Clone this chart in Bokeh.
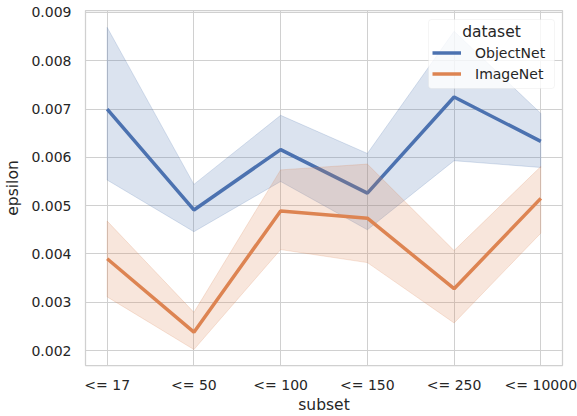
from bokeh.plotting import figure
from bokeh.models import (FixedTicker, PrintfTickFormatter, Range1d, Legend, LegendItem,
                          Label, BoxAnnotation)
from bokeh.embed import file_html
from bokeh.resources import INLINE

# Subset buckets along the x axis
subsets = ["<= 17", "<= 50", "<= 100", "<= 150", "<= 250", "<= 10000"]

# ObjectNet: mean epsilon and confidence band
objectnet_mean = [0.00700, 0.00491, 0.00616, 0.00526, 0.00725, 0.00633]
objectnet_low = [0.00553, 0.00446, 0.00550, 0.00450, 0.00593, 0.00579]
objectnet_high = [0.00869, 0.00544, 0.00687, 0.00608, 0.00861, 0.00691]

# ImageNet: mean epsilon and confidence band
imagenet_mean = [0.00390, 0.00238, 0.00489, 0.00474, 0.00328, 0.00515]
imagenet_low = [0.00311, 0.00202, 0.00409, 0.00382, 0.00257, 0.00443]
imagenet_high = [0.00468, 0.00279, 0.00574, 0.00586, 0.00407, 0.00581]

BLUE = "#4c72b0"
ORANGE = "#dd8452"
TEXT = "#262626"
GRID = "#d0d0d0"
FONT = "DejaVu Sans"

xs = list(range(len(subsets)))

p = figure(width=577, height=416, output_backend="svg", toolbar_location=None,
           x_range=Range1d(-0.25, len(subsets) - 0.75),
           y_range=Range1d(0.00169, 0.00904))
p.min_border_left = 85
p.min_border_right = 15
p.min_border_top = 10
p.min_border_bottom = 50
p.background_fill_color = "white"
p.border_fill_color = "white"
p.outline_line_color = GRID
p.outline_line_width = 1.25

p.xgrid.grid_line_color = GRID
p.ygrid.grid_line_color = GRID
p.xgrid.grid_line_width = 1
p.ygrid.grid_line_width = 1

p.xaxis.ticker = FixedTicker(ticks=xs)
p.xaxis.major_label_overrides = {i: s for i, s in enumerate(subsets)}
p.yaxis.ticker = FixedTicker(ticks=[0.002, 0.003, 0.004, 0.005, 0.006, 0.007, 0.008, 0.009])
p.yaxis.formatter = PrintfTickFormatter(format="%.3f")
p.xaxis.axis_label = "subset"
p.yaxis.axis_label = "epsilon"

for ax in (p.xaxis, p.yaxis):
    ax.axis_line_color = None
    ax.major_tick_line_color = None
    ax.minor_tick_line_color = None
    ax.major_label_text_font = FONT
    ax.major_label_text_font_size = "14px"
    ax.major_label_text_color = TEXT
    ax.axis_label_text_font = FONT
    ax.axis_label_text_font_size = "15.5px"
    ax.axis_label_text_font_style = "normal"
    ax.axis_label_text_color = TEXT
p.xaxis.major_label_standoff = 5
p.yaxis.major_label_standoff = 8
p.xaxis.axis_label_standoff = 0
p.yaxis.axis_label_standoff = 6


def band(color, low, high):
    bx = xs + xs[::-1]
    by = list(high) + list(low)[::-1]
    p.patch(bx, by, fill_color=color, fill_alpha=0.2,
            line_color=color, line_alpha=0.2, line_width=1)


band(BLUE, objectnet_low, objectnet_high)
r_obj = p.line(xs, objectnet_mean, line_color=BLUE, line_width=3.5)
band(ORANGE, imagenet_low, imagenet_high)
r_img = p.line(xs, imagenet_mean, line_color=ORANGE, line_width=3.5)

# Legend frame (screen units, relative to the plot frame) and its centred heading
legend_box = BoxAnnotation(left=343, right=469, bottom=277, top=346,
                           left_units="screen", right_units="screen",
                           bottom_units="screen", top_units="screen",
                           fill_color="white", fill_alpha=0.8,
                           line_color="#dddddd", line_width=1, border_radius=3)
p.add_layout(legend_box)
heading = Label(x=406, y=334, x_units="screen", y_units="screen", text="dataset",
                text_align="center", text_baseline="middle",
                text_font=FONT, text_font_size="15.5px", text_color=TEXT)
p.add_layout(heading)

# Legend entries; the blank title keeps the heading row free
legend = Legend(items=[LegendItem(label="ObjectNet", renderers=[r_obj]),
                       LegendItem(label="ImageNet", renderers=[r_img])],
                location=(347, 282), title=" ")
legend.margin = 0
legend.padding = 5
legend.spacing = 2
legend.glyph_width = 29
legend.glyph_height = 19
legend.label_height = 19
legend.label_standoff = 14
legend.label_text_font = FONT
legend.label_text_font_size = "14px"
legend.label_text_color = TEXT
legend.title_text_font = FONT
legend.title_text_font_size = "15.5px"
legend.title_text_font_style = "normal"
legend.title_text_color = TEXT
legend.title_standoff = 3
legend.border_line_color = None
legend.background_fill_color = None
p.add_layout(legend)

open("out.html", "w").write(file_html(p, INLINE))
